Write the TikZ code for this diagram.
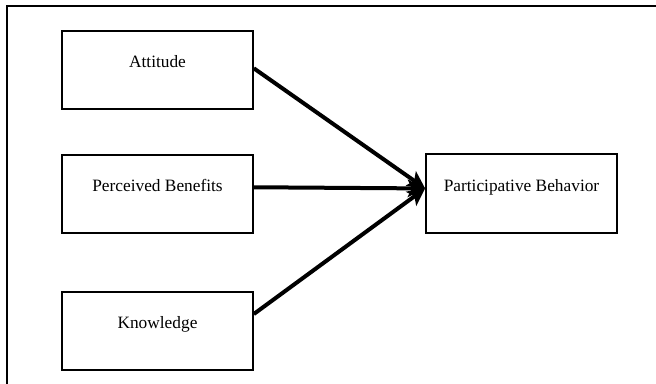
\documentclass[tikz,border=0pt]{standalone}
\usepackage{fontspec}
\setmainfont{Liberation Serif}
\usetikzlibrary{arrows.meta}

\begin{document}
\begin{tikzpicture}[x=0.75pt, y=-0.75pt,
    factor/.style={draw, line width=1.5pt, minimum width=143pt, minimum height=59pt,
      text height=9pt, text depth=12.5pt, inner sep=0pt,
      font=\fontsize{13}{15}\selectfont},
    link/.style={line width=3pt, -{Stealth[length=13pt, width=13pt, inset=3pt]}}]
    \useasboundingbox (0, 0) rectangle (656, 384);
    \draw[line width=1.5pt] (7, 384) -- (7, 6) -- (656, 6);

    \node[factor] (att) at (157.5, 70) {Attitude};
    \node[factor] (ben) at (157.5, 194) {Perceived Benefits};
    \node[factor] (kno) at (157.5, 331) {Knowledge};
    \node[factor] (beh) at (521.5, 193.5) {Participative Behavior};

    \draw[link] (att.1) -- (beh.177);
    \draw[link] (ben.4) -- (beh.177);
    \draw[link] (kno.10) -- (beh.177);
  \end{tikzpicture}
\end{document}
